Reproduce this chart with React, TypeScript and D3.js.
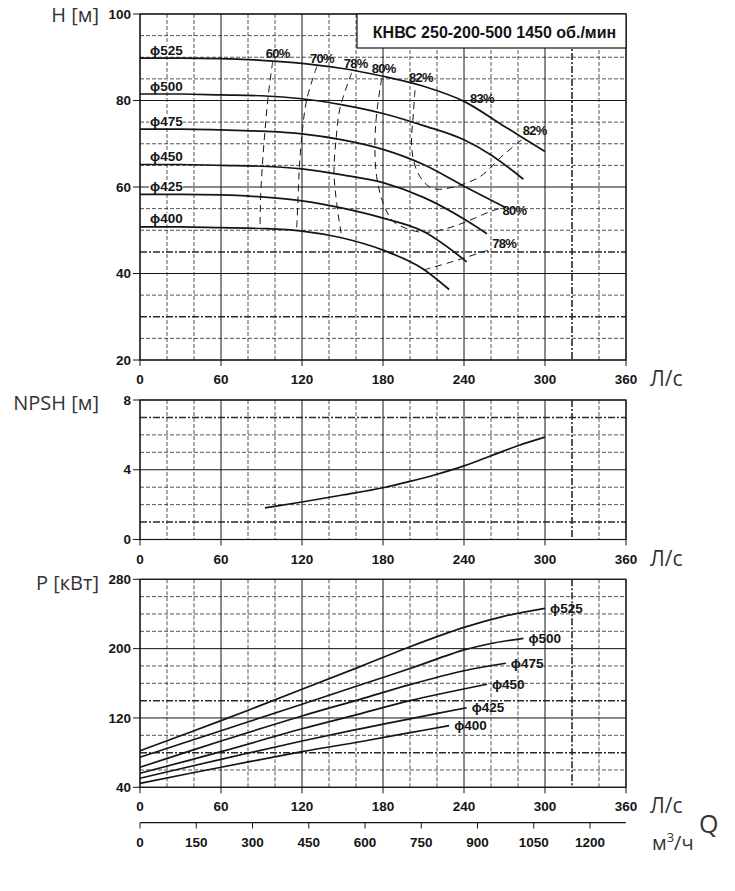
import * as d3 from "d3";

type Pt = [number, number];

// flow axis (L/s) and secondary axis (m3/h)
const flowTicks = [0, 60, 120, 180, 240, 300, 360];
const flowHeavy = [320];
const m3hTicks = [0, 150, 300, 450, 600, 750, 900, 1050, 1200];

const headTicks = [20, 40, 60, 80, 100];
const headHeavy = [30, 45];
const npshTicks = [0, 4, 8];
const npshHeavy = [1, 7];
const powerTicks = [40, 120, 200, 280];
const powerHeavy = [80, 140];

const diameters = ["525", "500", "475", "450", "425", "400"];

// H(Q) per impeller diameter
const head525: Pt[] = [[0, 89.8], [30, 89.8], [60, 89.7], [90, 89.3], [120, 88.6], [150, 87.4], [180, 85.6], [210, 83.3], [240, 79.8], [270, 74.0], [300, 68.2]];
const head500: Pt[] = [[0, 81.5], [30, 81.5], [60, 81.3], [90, 81.1], [120, 80.4], [150, 79.0], [180, 77.0], [210, 74.2], [240, 70.9], [260, 67.4], [284, 61.8]];
const head475: Pt[] = [[0, 73.4], [30, 73.4], [60, 73.2], [90, 72.9], [120, 72.3], [150, 70.9], [180, 68.7], [210, 65.2], [240, 60.2], [271, 55.2]];
const head450: Pt[] = [[0, 65.2], [30, 65.2], [60, 65.0], [90, 64.8], [120, 64.2], [150, 62.8], [180, 61.0], [210, 57.6], [240, 52.6], [257, 49.2]];
const head425: Pt[] = [[0, 58.3], [30, 58.3], [60, 58.2], [90, 57.7], [120, 56.8], [150, 55.1], [180, 52.8], [210, 49.7], [242, 42.7]];
const head400: Pt[] = [[0, 50.8], [30, 50.8], [60, 50.6], [90, 50.4], [120, 49.8], [150, 48.2], [180, 45.4], [210, 41.0], [229, 36.3]];
const headCurves = [head525, head500, head475, head450, head425, head400];

// iso-efficiency lines
const eff60: Pt[] = [[98.3, 89.0], [95, 81.2], [92.6, 73.1], [90.6, 64.8], [89.4, 58.0], [88.9, 50.8]];
const eff70: Pt[] = [[131, 87.9], [123.5, 80.2], [120, 72.2], [118, 64.2], [117, 57.0], [116, 49.9]];
const eff78: Pt[] = [[156.8, 86.4], [148.1, 78.2], [145.2, 70.9], [143.7, 63.5], [145.7, 56.2], [149.4, 48.5]];
const eff78r: Pt[] = [[210, 40.8], [232, 42.8], [258, 45.4]];
const eff80: Pt[] = [[179, 85.1], [175.3, 77.0], [174, 69.7], [175.3, 62.4], [180.2, 56.2], [187.7, 52.0], [197.5, 50.4], [210, 49.5], [227, 50.4], [241.9, 52.0], [259.3, 54.3], [270, 55.4]];
const eff82: Pt[] = [[203.7, 82.4], [202.5, 77.0], [201.2, 69.3], [204.9, 63.9], [212.4, 60.5], [219.8, 59.5], [234.6, 60.2], [251.9, 62.4], [269.1, 67.4], [282.7, 70.9]];
const bestEff: Pt = [240, 79.8];

const npsh: Pt[] = [[92.6, 1.81], [120, 2.15], [150, 2.55], [180, 2.97], [200, 3.33], [220, 3.74], [240, 4.22], [260, 4.8], [280, 5.38], [300, 5.87]];

// P(Q) per impeller diameter
const power525: Pt[] = [[0, 82.2], [60, 116.9], [120, 153.1], [163, 179.2], [200, 202.2], [240, 224.5], [270, 237.5], [300, 246.5]];
const power500: Pt[] = [[0, 74.6], [60, 105.3], [120, 135.8], [163, 158.0], [200, 177.0], [240, 198.5], [262, 206.5], [284, 211.9]];
const power475: Pt[] = [[0, 63.1], [60, 93.4], [120, 122.3], [163, 141.5], [200, 158.5], [240, 174.5], [271, 183.1]];
const power450: Pt[] = [[0, 56.2], [60, 81.1], [120, 107.5], [163, 124.8], [200, 140.0], [257, 158.9]];
const power425: Pt[] = [[0, 50.4], [60, 72.3], [120, 93.4], [163, 107.5], [200, 119.0], [242, 131.8]];
const power400: Pt[] = [[0, 44.6], [60, 63.1], [120, 81.1], [163, 92.6], [200, 103.0], [229, 111.1]];
const powerCurves = [power525, power500, power475, power450, power425, power400];

const W = 735;
const H = 891;
const left = 140;
const right = 626;

const x = d3.scaleLinear().domain([0, 360]).range([left, right]);
const xM = d3.scaleLinear().domain([0, 1296]).range([left, right]);
const yH = d3.scaleLinear().domain([20, 100]).range([360, 14]);
const yN = d3.scaleLinear().domain([0, 8]).range([539.5, 400]);
const yP = d3.scaleLinear().domain([40, 280]).range([787.3, 579.3]);

const tickFont = "'Liberation Sans', Arial, sans-serif";
const titleFont = "'Open Sans', 'Noto Sans', sans-serif";
const ink = "#151515";

function Panel({ y, ticks, step, heavy }: { y: d3.ScaleLinear<number, number>; ticks: number[]; step: number; heavy: number[] }) {
  const [y0, y1] = y.domain();
  const top = y(y1);
  const bottom = y(y0);
  const hLines = d3.range(y0, y1 + 0.001, step);
  const vLines = d3.range(0, 361, 20);
  return (
    <g>
      {hLines.map((v) => {
        const major = ticks.includes(v);
        const hv = heavy.includes(v);
        return (
          <line key={"h" + v} x1={left} x2={right} y1={y(v)} y2={y(v)} stroke={major ? ink : "#2a2a2a"}
            strokeWidth={major ? 1 : hv ? 1.5 : 0.8}
            strokeDasharray={major ? undefined : hv ? "7,2,2,2" : "4,2"} />
        );
      })}
      {vLines.map((v) => {
        const major = flowTicks.includes(v);
        const hv = flowHeavy.includes(v);
        return (
          <line key={"v" + v} x1={x(v)} x2={x(v)} y1={top} y2={bottom} stroke={major ? ink : "#2a2a2a"}
            strokeWidth={major ? 1 : hv ? 1.6 : 0.8}
            strokeDasharray={major ? undefined : hv ? "7,2,2,2" : "4,2"} />
        );
      })}
      <rect x={left} y={top} width={right - left} height={bottom - top} fill="none" stroke={ink} strokeWidth={1.2} />
      {ticks.map((v) => (
        <g key={"yt" + v}>
          <line x1={left - 7} x2={left} y1={y(v)} y2={y(v)} stroke={ink} strokeWidth={1} />
          <text x={131} y={y(v) + 4.7} textAnchor="end" fontFamily={tickFont} fontWeight="bold" fontSize={13.5} fill={ink}>{v}</text>
        </g>
      ))}
      {flowTicks.map((v) => (
        <g key={"xt" + v}>
          <line x1={x(v)} x2={x(v)} y1={bottom} y2={bottom + 6} stroke={ink} strokeWidth={1} />
          <text x={x(v)} y={bottom + 24} textAnchor="middle" fontFamily={tickFont} fontWeight="bold" fontSize={13.5} fill={ink}>{v}</text>
        </g>
      ))}
      <text x={650} y={bottom + 26} fontFamily={titleFont} fontSize={21} fill="#333">Л/с</text>
    </g>
  );
}

export default function App() {
  const headLine = d3.line<Pt>().x((d) => x(d[0])).y((d) => yH(d[1])).curve(d3.curveMonotoneX);
  const effLine = d3.line<Pt>().x((d) => x(d[0])).y((d) => yH(d[1])).curve(d3.curveCatmullRom.alpha(0.5));
  const npshLine = d3.line<Pt>().x((d) => x(d[0])).y((d) => yN(d[1])).curve(d3.curveMonotoneX);
  const powerLine = d3.line<Pt>().x((d) => x(d[0])).y((d) => yP(d[1])).curve(d3.curveCatmullRom.alpha(0.5));

  const effLabels: { text: string; p: Pt; dx: number; dy: number; anchor: string }[] = [
    { text: "60%", p: eff60[0], dx: 5, dy: -4, anchor: "middle" },
    { text: "70%", p: eff70[0], dx: 5, dy: -3, anchor: "middle" },
    { text: "78%", p: eff78[0], dx: 4, dy: -5, anchor: "middle" },
    { text: "80%", p: eff80[0], dx: 2, dy: -5.5, anchor: "middle" },
    { text: "82%", p: eff82[0], dx: 6, dy: -8, anchor: "middle" },
    { text: "83%", p: bestEff, dx: 6, dy: 1.5, anchor: "start" },
    { text: "82%", p: eff82[eff82.length - 1], dx: 1, dy: -5, anchor: "start" },
    { text: "80%", p: eff80[eff80.length - 1], dx: -2, dy: 8, anchor: "start" },
    { text: "78%", p: eff78r[eff78r.length - 1], dx: 4, dy: -2, anchor: "start" },
  ];

  return (
    <svg width={W} height={H} style={{ position: "absolute", left: 0, top: 0, background: "#fff" }}>
      <rect width={W} height={H} fill="#fff" />

      {/* H(Q) */}
      <Panel y={yH} ticks={headTicks} step={5} heavy={headHeavy} />
      <rect x={357} y={14} width={right - 357} height={34} fill="#fff" stroke={ink} strokeWidth={1.2} />
      <text x={(357 + right) / 2 + 3} y={37.5} textAnchor="middle" fontFamily={tickFont} fontWeight="bold" fontSize={16} fill={ink}>КНВС 250-200-500 1450 об./мин</text>

      {[eff60, eff70, eff78, eff78r, eff80, eff82].map((d, i) => (
        <path key={"e" + i} d={effLine(d) ?? ""} fill="none" stroke={ink} strokeWidth={1} strokeDasharray="7,5" />
      ))}
      {headCurves.map((d, i) => (
        <path key={"hc" + i} d={headLine(d) ?? ""} fill="none" stroke={ink} strokeWidth={1.7} />
      ))}
      {headCurves.map((d, i) => {
        const yy = yH(d[0][1]) - 3.5;
        return (
          <g key={"hl" + i}>
            <rect x={149} y={yy - 10} width={34} height={11} fill="#fff" />
            <text x={150} y={yy} fontFamily={tickFont} fontWeight="bold" fontSize={13.5} fill={ink}>ϕ{diameters[i]}</text>
          </g>
        );
      })}
      {effLabels.map((l, i) => (
        <text key={"el" + i} x={x(l.p[0]) + l.dx} y={yH(l.p[1]) + l.dy} textAnchor={l.anchor} fontFamily={tickFont}
          fontWeight="bold" fontSize={13} letterSpacing={-0.7} fill={ink}>{l.text}</text>
      ))}
      <text x={99} y={22} textAnchor="end" fontFamily={titleFont} fontSize={20} fill="#333">H [м]</text>

      {/* NPSH(Q) */}
      <Panel y={yN} ticks={npshTicks} step={1} heavy={npshHeavy} />
      <path d={npshLine(npsh) ?? ""} fill="none" stroke={ink} strokeWidth={1.7} />
      <text x={99} y={410} textAnchor="end" fontFamily={titleFont} fontSize={20} fill="#333">NPSH [м]</text>

      {/* P(Q) */}
      <Panel y={yP} ticks={powerTicks} step={20} heavy={powerHeavy} />
      {powerCurves.map((d, i) => (
        <path key={"pc" + i} d={powerLine(d) ?? ""} fill="none" stroke={ink} strokeWidth={1.7} />
      ))}
      {powerCurves.map((d, i) => {
        const e = d[d.length - 1];
        return (
          <text key={"pl" + i} x={x(e[0]) + 5} y={yP(e[1]) + 4.5} fontFamily={tickFont} fontWeight="bold" fontSize={13.5} fill={ink}>ϕ{diameters[i]}</text>
        );
      })}
      <text x={99} y={590} textAnchor="end" fontFamily={titleFont} fontSize={20} fill="#333">P [кВт]</text>

      {/* m3/h axis */}
      <line x1={left} x2={right} y1={822.7} y2={822.7} stroke={ink} strokeWidth={1.2} />
      {m3hTicks.map((v) => (
        <g key={"m" + v}>
          <line x1={xM(v)} x2={xM(v)} y1={822.7} y2={828.5} stroke={ink} strokeWidth={1} />
          <text x={xM(v)} y={846.5} textAnchor="middle" fontFamily={tickFont} fontWeight="bold" fontSize={13.5} fill={ink}>{v}</text>
        </g>
      ))}
      <text x={652} y={850} fontFamily={titleFont} fontSize={20} fill="#333">
        м<tspan dy={-8} fontSize={13}>3</tspan><tspan dy={8}>/ч</tspan>
      </text>
      <text x={699} y={833} fontFamily={titleFont} fontSize={25} fill="#333">Q</text>
    </svg>
  );
}
